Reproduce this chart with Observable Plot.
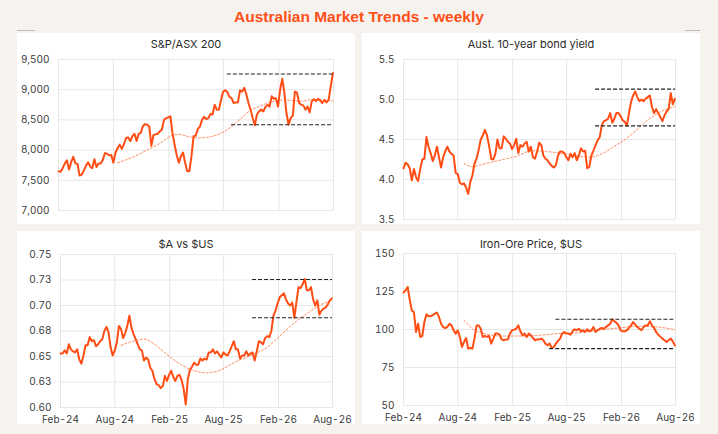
<!DOCTYPE html>
<html><head><meta charset="utf-8">
<script src="https://cdn.jsdelivr.net/npm/d3@7"></script>
<script src="https://cdn.jsdelivr.net/npm/@observablehq/plot@0.6"></script>
<style>
html,body{margin:0;padding:0;background:#f6f2ee;}
#root{position:relative;width:718px;height:434px;background:#f6f2ee;overflow:hidden;font-family:Inter,"Open Sans",sans-serif;}
#title{position:absolute;left:0;width:718px;top:8px;text-align:center;font:bold 15.5px "Liberation Sans",Arial,sans-serif;color:#ff4f17;}
.panel{position:absolute;background:#fff;}
.ptitle{position:absolute;left:0;right:0;text-align:center;font-size:11px;color:#2a2a2a;line-height:14px;}
.panel svg{position:absolute;left:0;top:0;overflow:visible;}
.deco{position:absolute;height:1px;background:#bdbdbd;}
</style></head><body><div id="root"><div id="title">Australian Market Trends - weekly</div></div>
<script>
const startDate = "2024-02-01";
const xTickDates = ["2024-02-01","2024-08-01","2025-02-01","2025-08-01","2026-02-01","2026-08-01"];
const xTickLabels = ["Feb-24","Aug-24","Feb-25","Aug-25","Feb-26","Aug-26"];

// weekly closes
const asx = [7650,7640,7700,7780,7830,7680,7800,7890,7780,7770,
7580,7595,7660,7740,7800,7730,7700,7850,7720,7780,
7780,7840,7950,7940,7915,7920,7790,7960,8030,8090,
8020,8100,8200,8210,8150,8230,8270,8150,8270,8290,
8400,8430,8420,8390,8070,8250,8260,8270,8310,8340,
8500,8530,8540,8560,8280,8090,7920,7790,7900,7960,
7790,7650,7650,7900,8230,8240,8350,8390,8500,8550,
8515,8530,8600,8590,8750,8670,8670,8830,8970,8990,
8960,8880,8860,8780,8790,8790,8990,8970,9030,8920,
8780,8670,8530,8410,8590,8640,8670,8640,8710,8750,
8720,8890,8850,8860,8720,9000,9180,8950,8610,8420,
8530,8570,8970,8950,8780,8750,8740,8670,8720,8625,
8810,8840,8810,8850,8820,8780,8830,8790,8835,9060,
9275];
const bond = [4.14,4.21,4.19,4.14,3.99,4.13,4.03,3.98,4.13,4.25,
4.26,4.53,4.41,4.33,4.23,4.30,4.41,4.28,4.15,4.28,
4.35,4.41,4.35,4.32,4.30,4.08,4.07,3.96,3.94,3.95,
3.90,3.82,3.97,4.05,4.20,4.26,4.37,4.50,4.55,4.62,
4.55,4.42,4.26,4.25,4.32,4.50,4.39,4.39,4.54,4.51,
4.47,4.45,4.38,4.43,4.51,4.33,4.43,4.41,4.45,4.47,
4.35,4.41,4.28,4.26,4.35,4.46,4.43,4.30,4.26,4.24,
4.20,4.17,4.15,4.18,4.30,4.35,4.35,4.33,4.28,4.24,
4.32,4.28,4.33,4.24,4.30,4.39,4.35,4.36,4.14,4.16,
4.30,4.36,4.43,4.49,4.53,4.68,4.73,4.74,4.76,4.83,
4.71,4.76,4.83,4.83,4.79,4.74,4.72,4.67,4.83,4.97,
5.05,5.10,5.03,4.98,5.00,4.98,5.01,5.03,5.05,4.91,
4.83,4.88,4.83,4.78,4.73,4.80,4.85,4.88,5.08,4.94,
5.01];
const aud = [.653,.653,.656,.653,.662,.657,.655,.654,.657,.647,
.643,.651,.661,.661,.669,.665,.666,.660,.662,.665,
.667,.675,.679,.674,.659,.651,.656,.664,.680,.677,
.668,.673,.680,.690,.678,.672,.667,.662,.657,.656,
.646,.649,.647,.639,.636,.628,.623,.622,.619,.621,
.631,.626,.632,.636,.630,.626,.631,.632,.627,.618,
.603,.628,.637,.640,.644,.642,.642,.648,.646,.648,
.647,.654,.654,.657,.653,.655,.652,.649,.654,.652,
.651,.655,.660,.665,.657,.657,.648,.651,.651,.655,
.651,.653,.654,.646,.655,.665,.664,.662,.668,.670,
.669,.675,.690,.695,.702,.708,.710,.712,.706,.702,
.700,.703,.688,.703,.718,.717,.721,.726,.715,.715,
.718,.706,.700,.705,.691,.695,.697,.698,.701,.705,
.707];
const iron = [124.3,125.8,128.0,119.5,112.5,111.3,98.4,103.8,95.1,95.7,
105,110,108.7,108.7,109.5,110.4,111.1,108.2,103.8,101.6,
101,101.6,103.8,102.7,99.5,97.3,99.5,95.1,88.5,91.8,
94.4,87.4,87.8,87.4,94,102.7,102.7,100.5,95.1,95.7,
95.1,95.7,90.7,94,97.3,97.3,96.6,93.5,92.9,93.5,
93.5,97.3,99.5,99.9,100.5,102.7,98.8,96.2,97.3,95.1,
97.3,96.2,94.4,92.9,93.5,93.5,94,92.9,90.7,89.6,
90.7,87.8,88.5,90.7,92.5,94,97.3,98.4,97.3,97.3,
96.6,98.8,100.1,99.5,100.5,98.8,99.5,98.4,100.1,98.8,
99.5,101.6,98.4,99.5,100.5,101,100.5,101.6,102.7,103.8,
106.7,105.4,104.5,102.7,99.5,98.8,98.8,99.5,101,102.7,
104.9,103.2,101.6,100.5,99.5,101.6,102.7,102.7,105.4,102.7,
101,98.4,96.6,95.3,94,92.9,91.8,92.9,94,92.2,
89.6];

// trend lines (week index, value)
const asxTrendW = [28,35,42,48,53,57,62,66,70,75,80,85,91,95,101,107,115,121,130];
const asxTrendV = [7790,7880,8000,8110,8230,8260,8220,8200,8210,8250,8340,8480,8660,8720,8800,8830,8810,8840,8810];
const bondTrendW = [29,33,38,46,54,62,68,75,82,89,95,100,105,110,115,120,125,130];
const bondTrendV = [4.20,4.16,4.19,4.24,4.29,4.36,4.35,4.33,4.30,4.28,4.32,4.40,4.48,4.58,4.70,4.80,4.87,4.91];
const audTrendW = [29,35,40,45,51,57,64,70,77,83,91,99,105,112,118,124,130];
const audTrendV = [.661,.665,.667,.662,.652,.643,.636,.634,.637,.644,.651,.659,.670,.683,.692,.700,.705];
const ironTrendW = [29,33,39,47,55,65,74,84,93,103,113,122,130];
const ironTrendV = [106,100.5,97.3,95.7,95.7,96.2,97.3,97.9,99.5,101,102.1,101.6,99.9];

// support / resistance levels
const asxLevelV = [9260, 8420], asxLevelW = [80, 82];
const bondLevelV = [5.13, 4.67], bondLevelW = [92, 92];
const audLevelV = [0.7255, 0.688], audLevelW = [92, 92];
const ironLevelV = [106.7, 87.4], ironLevelW = [73, 70];

// y ticks
const asxTicks = [7000,7500,8000,8500,9000,9500];
const asxTickLabels = ["7,000","7,500","8,000","8,500","9,000","9,500"];
const bondTicks = [3.5,4.0,4.5,5.0,5.5];
const bondTickLabels = ["3.5","4.0","4.5","5.0","5.5"];
const audTicks = [0.6,0.625,0.65,0.675,0.7,0.725,0.75];
const audTickLabels = ["0.60","0.63","0.65","0.68","0.70","0.73","0.75"];
const ironTicks = [50,75,100,125,150];
const ironTickLabels = ["50","75","100","125","150"];

const weekDate = i => d3.utcDay.offset(new Date(startDate), 7 * i);
const xDates = xTickDates.map(d => new Date(d));
const xLabelMap = new Map(xDates.map((d, i) => [+d, xTickLabels[i]]));

const root = document.getElementById("root");

function panel(o) {
  const div = document.createElement("div");
  div.className = "panel";
  Object.assign(div.style, {left: o.left + "px", top: o.top + "px", width: o.width + "px", height: o.height + "px"});
  const yMap = new Map(o.yTicks.map((d, i) => [d, o.yLabels[i]]));
  const end = xDates[xDates.length - 1];
  const marks = [
    Plot.gridY(o.yTicks, {stroke: "#e7e7e7", strokeOpacity: 1, strokeWidth: 1}),
    Plot.gridX(xDates, {stroke: "#e7e7e7", strokeOpacity: 1, strokeWidth: 1}),
    Plot.axisY(o.yTicks, {tickSize: 0, tickPadding: 9, tickFormat: d => yMap.get(d), label: null, fill: "#3a3a3a"}),
    Plot.line(o.trendW, {x: w => weekDate(w), y: (w, i) => o.trendV[i], curve: "monotone-x", stroke: "#ff8a60", strokeWidth: 1, strokeDasharray: "2,2"}),
    Plot.line(o.values, {x: (d, i) => weekDate(i), y: d => d, stroke: "#ff4d14", strokeWidth: 2, strokeLinejoin: "round"}),
    Plot.ruleY(o.levelV, {y: d => d, x1: (d, i) => weekDate(o.levelW[i]), x2: () => end, stroke: "#222", strokeWidth: 1.1, strokeDasharray: "4,2"})
  ];
  if (o.showX) marks.push(Plot.axisX(xDates, {tickSize: 0, tickPadding: 8, tickFormat: d => xLabelMap.get(+d), label: null, fill: "#3a3a3a"}));
  const svg = Plot.plot({
    width: o.width, height: o.height,
    marginLeft: o.ml, marginRight: o.mr, marginTop: o.mt, marginBottom: o.mb,
    style: {fontFamily: "Inter, 'Open Sans', sans-serif", fontSize: "10px", background: "transparent", color: "#3a3a3a"},
    x: {type: "utc", domain: [xDates[0], end], axis: null},
    y: {domain: o.yDomain, axis: null},
    marks
  });
  div.appendChild(svg);
  const t = document.createElement("div");
  t.className = "ptitle";
  t.style.top = (o.titleTop - 7) + "px";
  t.textContent = o.title;
  div.appendChild(t);
  root.appendChild(div);
}

panel({left: 17, top: 33, width: 338, height: 191, ml: 41, mr: 22, mt: 26, mb: 14, titleTop: 11,
  title: "S&P/ASX 200", values: asx, trendW: asxTrendW, trendV: asxTrendV, levelV: asxLevelV, levelW: asxLevelW,
  yDomain: [7000, 9500], yTicks: asxTicks, yLabels: asxTickLabels, showX: false});
panel({left: 362, top: 33, width: 338, height: 191, ml: 41, mr: 25, mt: 26, mb: 5, titleTop: 11,
  title: "Aust. 10-year bond yield", values: bond, trendW: bondTrendW, trendV: bondTrendV, levelV: bondLevelV, levelW: bondLevelW,
  yDomain: [3.5, 5.5], yTicks: bondTicks, yLabels: bondTickLabels, showX: false});
panel({left: 17, top: 231, width: 338, height: 193, ml: 43, mr: 23, mt: 23, mb: 17, titleTop: 13,
  title: "$A vs $US", values: aud, trendW: audTrendW, trendV: audTrendV, levelV: audLevelV, levelW: audLevelW,
  yDomain: [0.6, 0.75], yTicks: audTicks, yLabels: audTickLabels, showX: true});
panel({left: 362, top: 231, width: 338, height: 193, ml: 41, mr: 25, mt: 22, mb: 19, titleTop: 13,
  title: "Iron-Ore Price, $US", values: iron, trendW: ironTrendW, trendV: ironTrendV, levelV: ironLevelV, levelW: ironLevelW,
  yDomain: [50, 150], yTicks: ironTicks, yLabels: ironTickLabels, showX: true});

for (const [l, w] of [[17, 18], [685, 15]]) {
  const d = document.createElement("div");
  d.className = "deco";
  Object.assign(d.style, {left: l + "px", top: "30px", width: w + "px"});
  root.appendChild(d);
}
</script></body></html>
